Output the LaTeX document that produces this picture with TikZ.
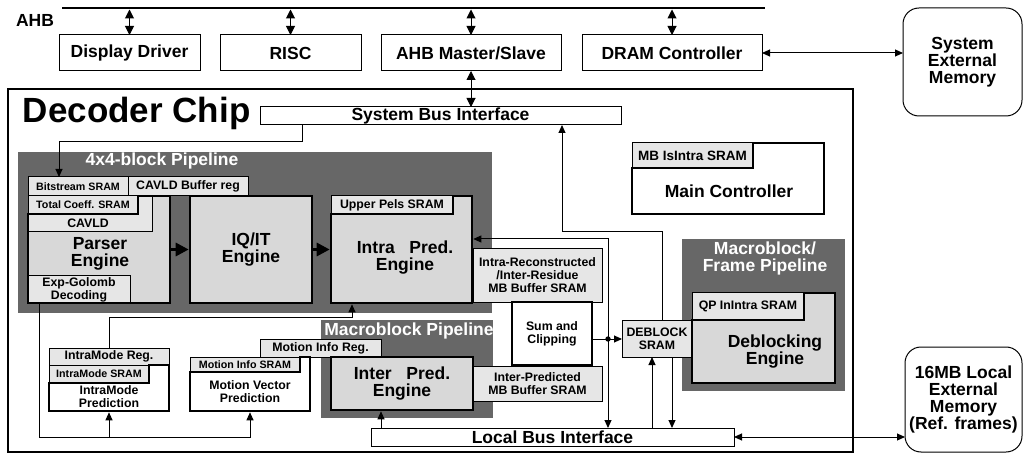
\documentclass[tikz,border=0pt]{standalone}
\usepackage{fontspec}
\setmainfont{Liberation Sans}
\usetikzlibrary{arrows.meta,calc}
\definecolor{pipeg}{HTML}{676767}
\definecolor{engg}{HTML}{D8D8D8}
\definecolor{sramg}{HTML}{E6E6E6}
\newcommand\FHuge{\fontsize{35pt}{38pt}\selectfont\bfseries}
\newcommand\FBig{\fontsize{17.5pt}{17pt}\selectfont\bfseries}
\newcommand\FMed{\fontsize{12.3pt}{13pt}\selectfont\bfseries}
\newcommand\FSm{\fontsize{10.7pt}{12pt}\selectfont\bfseries}
\newcommand\BX[7]{\node[#1,anchor=north west,minimum width={(#5-#3)*1pt},minimum height={(#6-#4)*1pt}] (#2) at (#3,#4) {#7};}
\begin{document}
\begin{tikzpicture}[x=1pt,y=-1pt,
 every node/.style={inner sep=0pt,outer sep=0pt,align=center},
 tbox/.style={draw,line width=1pt,fill=white,font=\FBig},
 sbox/.style={draw,line width=1pt,fill=sramg,font=\FMed},
 ebox/.style={draw,line width=2.6pt,fill=engg,font=\FBig},
 efill/.style={fill=engg},
 wthk/.style={draw,line width=2.6pt,fill=white,font=\FMed},
 wfill/.style={fill=white},
 pipebox/.style={fill=pipeg},
 ptitle/.style={text=white,font=\FBig},
 extbox/.style={draw,line width=1pt,rounded corners=16pt,font=\FBig},
 chipbox/.style={draw,line width=2.6pt},
 thk/.style={line width=2.6pt,line join=miter},
 conn/.style={line width=1pt},
 arr/.style={conn,-{Triangle[length=8pt,width=7pt]}},
 darr/.style={conn,{Triangle[length=8pt,width=7pt]}-{Triangle[length=8pt,width=7pt]}},
 bdarr/.style={conn,{Triangle[length=9pt,width=9pt]}-{Triangle[length=9pt,width=9pt]}},
 bigarr/.style={line width=3pt,-{Triangle[length=13pt,width=13pt]}},
]
\useasboundingbox (0,0) rectangle (1025,454);
\fill[white] (0,0) rectangle (1025,454);

% ---- AHB bus and top boxes
\coordinate (busL) at (62,8);
\coordinate (busR) at (765,8);
\coordinate (busA) at (0,9.5);
\draw[line width=2pt] (busL) -- (busR);
\node[font=\FBig] (ahb) at (35,20) {AHB};
\BX{tbox}{dd}{59}{35}{200}{71}{Display Driver}
\BX{tbox}{risc}{220}{35}{361}{71}{RISC}
\BX{tbox}{ahbms}{381}{35}{561}{71}{AHB Master/Slave}
\BX{tbox}{dram}{582}{35}{762}{71}{DRAM Controller}
\foreach \n in {dd,risc,ahbms,dram} \draw[bdarr] (\n.north |- busA) -- (\n.north);

\BX{extbox}{sysmem}{903}{8}{1022}{116}{System\\External\\Memory}
\BX{extbox}{lmem}{905}{347}{1022}{452}{16MB Local\\External\\Memory\\(Ref. frames)}

% ---- chip
\BX{chipbox}{chip}{8}{89}{853}{452}{}
\node[font=\FHuge,anchor=base west] (title) at (23,123) {Decoder Chip};
\BX{tbox}{sbi}{260}{107}{621}{125}{System Bus Interface}

% ---- pipelines
\BX{pipebox}{p4}{18}{152}{492}{313}{}
\node[ptitle] (p4t) at (162,161) {4x4-block Pipeline};
\BX{pipebox}{pmb}{321}{320}{493}{418}{}
\node[ptitle] (pmbt) at (409,331) {Macroblock Pipeline};
\BX{pipebox}{pmf}{682}{239}{845}{391}{}
\node[ptitle] (pmft) at (765,258) {Macroblock/\\Frame Pipeline};

% ---- parser
\BX{sbox}{bits}{28}{177}{128}{196}{\FSm Bitstream SRAM}
\BX{sbox}{cbuf}{128}{177}{248}{196}{CAVLD Buffer reg}
\BX{efill}{parser}{28}{196}{170}{303}{}
\BX{sbox}{cavld}{28}{196}{152}{232}{}
\node[font=\FMed] (cavldt) at (88,223) {CAVLD};
\BX{sbox}{tc}{28}{196}{138}{214}{\FSm Total Coeff. SRAM}
\BX{sbox}{expg}{28}{276}{130}{303}{Exp-Golomb\\Decoding}
\node[font=\FBig] (parsert) at (100,254) {Parser\\Engine};
\draw[thk] (tc.south west) -- (parser.south west) -- (parser.south east) -- (parser.north east) -- (tc.north east) -- (tc.south east) -- cycle;

% ---- IQ/IT
\BX{ebox}{iqit}{190}{196}{312}{303}{IQ/IT\\Engine}

% ---- intra
\BX{efill}{intra}{331}{196}{472}{303}{}
\BX{sbox}{upels}{331}{196}{453}{214}{Upper Pels SRAM}
\node[font=\FBig] (intrat) at (405,258) {Intra~~~Pred.\\Engine};
\draw[thk] (upels.south west) -- (intra.south west) -- (intra.south east) -- (intra.north east) -- (upels.north east) -- (upels.south east) -- cycle;

\BX{sbox}{irec}{473}{249}{602}{302}{Intra-Reconstructed\\/Inter-Residue\\MB Buffer SRAM}
\BX{wthk}{sum}{512}{302}{592}{365}{Sum and\\Clipping}
\BX{sbox}{ipbuf}{473}{366}{602}{401}{Inter-Predicted\\MB Buffer SRAM}

% ---- inter and motion
\BX{sbox}{mir}{260}{339}{381}{357}{Motion Info Reg.}
\BX{ebox}{inter}{331}{357}{473}{410}{Inter~~~Pred.\\Engine}
\BX{wfill}{mvp}{190}{357}{310}{411}{}
\BX{sbox}{mis}{190}{357}{300}{372}{\FSm Motion Info SRAM}
\node[font=\FMed] (mvpt) at (250,392) {Motion Vector\\Prediction};
\draw[thk] (mis.south west) -- (mvp.south west) -- (mvp.south east) -- (mvp.north east) -- (mis.north east) -- (mis.south east) -- cycle;

% ---- intramode
\BX{sbox}{imr}{49}{348}{169}{365}{IntraMode Reg.}
\BX{wfill}{imp}{49}{365}{169}{411}{}
\BX{sbox}{ims}{49}{365}{149}{383}{\FSm IntraMode SRAM}
\node[font=\FMed] (impt) at (109,397) {IntraMode\\Prediction};
\draw[thk] (ims.south west) -- (imp.south west) -- (imp.south east) -- (imp.north east) -- (ims.north east) -- (ims.south east) -- cycle;

% ---- main controller
\BX{wfill}{mc}{632}{143}{824}{214}{}
\BX{sbox}{mbs}{632}{143}{753}{168}{\fontsize{13.5pt}{14pt}\selectfont MB IsIntra SRAM}
\node[font=\FBig] (mct) at (729,191) {Main Controller};
\draw[thk] (mbs.south west) -- (mc.south west) -- (mc.south east) -- (mc.north east) -- (mbs.north east) -- (mbs.south east) -- cycle;

% ---- deblocking
\BX{sbox}{dbs}{622}{320}{692}{357}{\fontsize{12.3pt}{14pt}\selectfont DEBLOCK\\SRAM}
\BX{efill}{deb}{692}{293}{835}{383}{}
\BX{sbox}{qps}{692}{293}{804}{320}{QP InIntra SRAM}
\node[font=\FBig] (debt) at (775,352) {Deblocking\\Engine};
\draw[thk] (qps.south west) -- (deb.south west) -- (deb.south east) -- (deb.north east) -- (qps.north east) -- (qps.south east) -- cycle;

% ---- local bus
\BX{tbox}{lbi}{371}{428}{734}{446}{Local Bus Interface}

% ---- connectors
\draw[darr] (dram.east) -- (dram.east -| sysmem.west);
\draw[bdarr] (ahbms.south) -- (ahbms.south |- sbi.north);
\coordinate (b1) at (302,142);
\draw[arr] (sbi.south -| b1) -- (b1) -| ([xshift=-19pt]bits.north);

\draw[bigarr,shorten >=1.3pt] (parser.east) -- (iqit.west);
\draw[bigarr,shorten >=1.3pt] (iqit.east) -- (intra.west);

\coordinate (e1) at (39,437);
\draw[arr,shorten >=1.3pt] (e1 |- parser.south) -- (e1) -| (mvp.south);
\draw[arr,shorten >=1.3pt] (imp.south |- e1) -- (imp.south);

\coordinate (i1) at (352,317);
\draw[arr,shorten >=1.3pt] (imr.north) |- (i1) -- (i1 |- intra.south);

\coordinate (l1) at (381,0);
\draw[arr,shorten >=1.3pt] (l1 |- lbi.north) -- (l1 |- inter.south);
\draw[darr] (lbi.east) -- (lbi.east -| lmem.west);

\coordinate (jn) at (608,339);
\coordinate (j1) at (608,239);
\draw[conn] (jn -| sum.east) -- (jn);
\draw[arr] (jn) -- (jn -| dbs.west);
\draw[arr,shorten >=1.3pt] (jn) -- (j1) -- (j1 -| intra.east);
\draw[arr] (jn) -- (jn |- lbi.north);
\fill (jn) circle (2.7);

\coordinate (d1) at (662,232);
\coordinate (d2) at (562,232);
\draw[arr] (d1 |- dbs.north) -- (d1) -- (d2) -- (d2 |- sbi.south);
\coordinate (d3) at (652,0);
\coordinate (d4) at (672,0);
\draw[arr] (d3 |- lbi.north) -- (d3 |- dbs.south);
\draw[arr] (d4 |- dbs.south) -- (d4 |- lbi.north);
\end{tikzpicture}
\end{document}
